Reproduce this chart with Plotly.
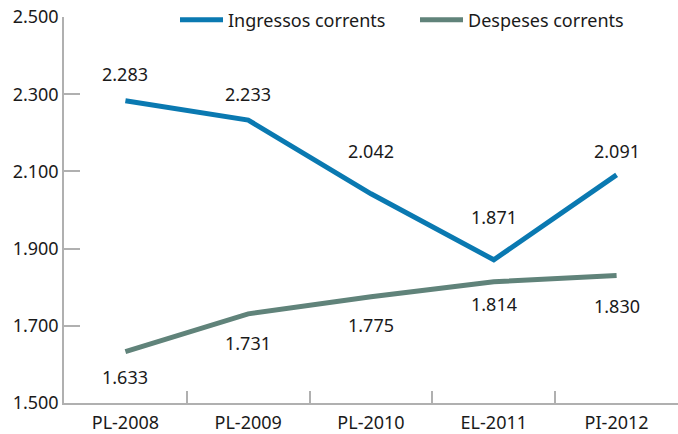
import plotly.graph_objects as go

categories = ["PL-2008", "PL-2009", "PL-2010", "EL-2011", "PI-2012"]
ingressos = [2283, 2233, 2042, 1871, 2091]
despeses = [1633, 1731, 1775, 1814, 1830]
series_names = ["Ingressos corrents", "Despeses corrents"]
y_ticks = [1500, 1700, 1900, 2100, 2300, 2500]

# label offsets in pixels (layout only)
ing_shift = [27, 26, 43, 43, 24]
des_shift = [-25, -29, -28, -22, -30]

BLUE = "#0a79b1"
GREY = "#60837a"
FONT = "Noto Sans"
TXT = "#1a1a1a"
AX = "#b0b0b0"
FS = 18

W, H = 678, 434

fig = go.Figure()
fig.add_trace(go.Scatter(x=categories, y=ingressos, mode="lines", name=series_names[0],
                         line=dict(color=BLUE, width=5)))
fig.add_trace(go.Scatter(x=categories, y=despeses, mode="lines", name=series_names[1],
                         line=dict(color=GREY, width=5)))

ann = []
for c, v, s in zip(categories, ingressos, ing_shift):
    ann.append(dict(x=c, y=v, xref="x", yref="y", text=f"{v:,}".replace(",", "."),
                    showarrow=False, yshift=s, font=dict(family=FONT, size=FS, color=TXT)))
for c, v, s in zip(categories, despeses, des_shift):
    ann.append(dict(x=c, y=v, xref="x", yref="y", text=f"{v:,}".replace(",", "."),
                    showarrow=False, yshift=s, font=dict(family=FONT, size=FS, color=TXT)))

fig.update_layout(
    width=W, height=H,
    margin=dict(l=64, r=0, t=17, b=31, autoexpand=False),
    paper_bgcolor="white", plot_bgcolor="white",
    separators=",.",
    font=dict(family=FONT, size=FS, color=TXT),
    showlegend=True,
    legend=dict(orientation="h", xref="container", yref="container",
                x=175 / W, xanchor="left", y=1 - 20 / H, yanchor="middle",
                font=dict(family=FONT, size=FS, color=TXT),
                bgcolor="rgba(0,0,0,0)", itemwidth=43, entrywidth=182),
    annotations=ann,
    xaxis=dict(type="category", range=[-0.5, 4.5], showgrid=False, showline=True,
               linecolor=AX, linewidth=1.5, ticks="inside", tickson="boundaries",
               ticklen=12, tickcolor=AX, tickwidth=1.5, automargin=False,
               ticklabelstandoff=3, ticklabeloverflow="allow",
               tickfont=dict(family=FONT, size=FS, color=TXT)),
    yaxis=dict(range=[1500, 2500], tickvals=y_ticks, tickformat=",d", showgrid=False,
               showline=True, linecolor=AX, linewidth=1.5, ticks="inside",
               ticklen=16, tickcolor=AX, tickwidth=1.5, zeroline=False, automargin=False,
               ticklabeloverflow="allow",
               tickfont=dict(family=FONT, size=FS, color=TXT)),
)

fig.write_html("out.html", config={"displayModeBar": False},
               post_script="document.body.style.margin='0';")
